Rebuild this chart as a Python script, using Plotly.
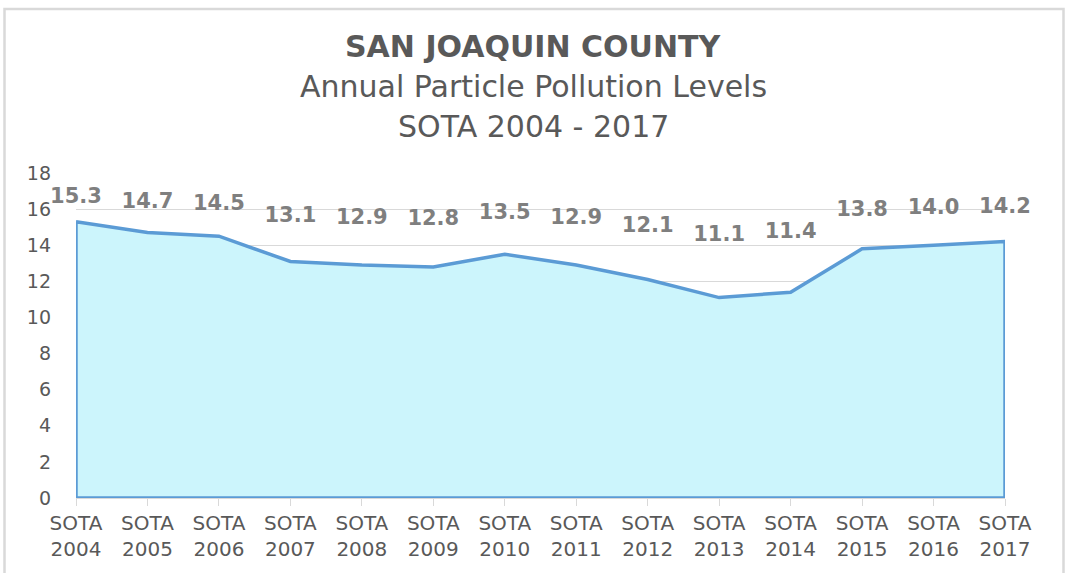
import plotly.graph_objects as go

years = ["2004","2005","2006","2007","2008","2009","2010","2011","2012","2013","2014","2015","2016","2017"]
categories = ["SOTA<br>" + y for y in years]
values = [15.3, 14.7, 14.5, 13.1, 12.9, 12.8, 13.5, 12.9, 12.1, 11.1, 11.4, 13.8, 14.0, 14.2]
y_max = 18
y_ticks = [0, 2, 4, 6, 8, 10, 12, 14, 16, 18]
title_lines = ["<b>SAN JOAQUIN COUNTY</b>", "Annual Particle Pollution Levels", "SOTA 2004 - 2017"]

idx = list(range(len(categories)))

W, H = 1066, 573
ML, MR, MT, MB = 76, 61, 173, 75
PW, PH = W - ML - MR, H - MT - MB


def py(p):
    return (H - MB - p) / PH


def px(p):
    return (p - ML) / PW


fig = go.Figure()
# closed area polygon (outline goes all around)
fig.add_trace(go.Scatter(
    x=idx + [idx[-1], idx[0], idx[0]],
    y=values + [0, 0, values[0]],
    mode="lines", fill="toself",
    fillcolor="#ccf5fc",
    line=dict(color="#5b9bd5", width=3.5),
    hoverinfo="skip", showlegend=False, cliponaxis=False,
))
# data labels, Excel-style placed midway between value and axis max
fig.add_trace(go.Scatter(
    x=idx, y=[(v + y_max) / 2 for v in values],
    mode="text", text=[f"{v:.1f}" for v in values],
    textfont=dict(family="DejaVu Sans", size=21, color="#7f7f7f", weight="bold"),
    textposition="middle center", showlegend=False, hoverinfo="skip",
    cliponaxis=False,
))

title_y = [47, 86, 126]
annotations = [
    dict(text=t, xref="paper", yref="paper", x=px(533), y=py(yy),
         xanchor="center", yanchor="middle", showarrow=False,
         font=dict(family="DejaVu Sans", size=30, color="#595959"))
    for t, yy in zip(title_lines, title_y)
]

fig.update_layout(
    width=W, height=H,
    paper_bgcolor="white", plot_bgcolor="white",
    margin=dict(l=ML, r=MR, t=MT, b=MB, autoexpand=False),
    showlegend=False,
    font=dict(family="DejaVu Sans", color="#595959"),
    annotations=annotations,
    xaxis=dict(
        range=[0, len(categories) - 1], automargin=False,
        tickmode="array", tickvals=idx, ticktext=categories,
        showgrid=False, zeroline=False,
        showline=True, linecolor="#d9d9d9", linewidth=1,
        ticks="outside", ticklen=7, tickcolor="#d9d9d9",
        tickfont=dict(family="DejaVu Sans", size=20, color="#595959"),
    ),
    yaxis=dict(
        range=[0, y_max], tickvals=y_ticks, automargin=False,
        showgrid=True, gridcolor="#d9d9d9", gridwidth=1,
        zeroline=False, showline=False,
        ticklabelstandoff=24,
        tickfont=dict(family="DejaVu Sans", size=19, color="#595959"),
    ),
)

# outer frame of the chart
fig.add_shape(type="rect", xref="paper", yref="paper",
              x0=px(4.5), x1=px(1063.5),
              y0=-0.4, y1=py(9),
              line=dict(color="#d9d9d9", width=2.5), fillcolor="rgba(0,0,0,0)", layer="below")

fig.write_html("out.html", config={"displayModeBar": False})

# remove the default page margin so the figure sits at the window origin
with open("out.html", "r", encoding="utf-8") as f:
    html = f.read()
html = html.replace("<body>", '<body style="margin:0;padding:0;overflow:hidden">', 1)
with open("out.html", "w", encoding="utf-8") as f:
    f.write(html)
